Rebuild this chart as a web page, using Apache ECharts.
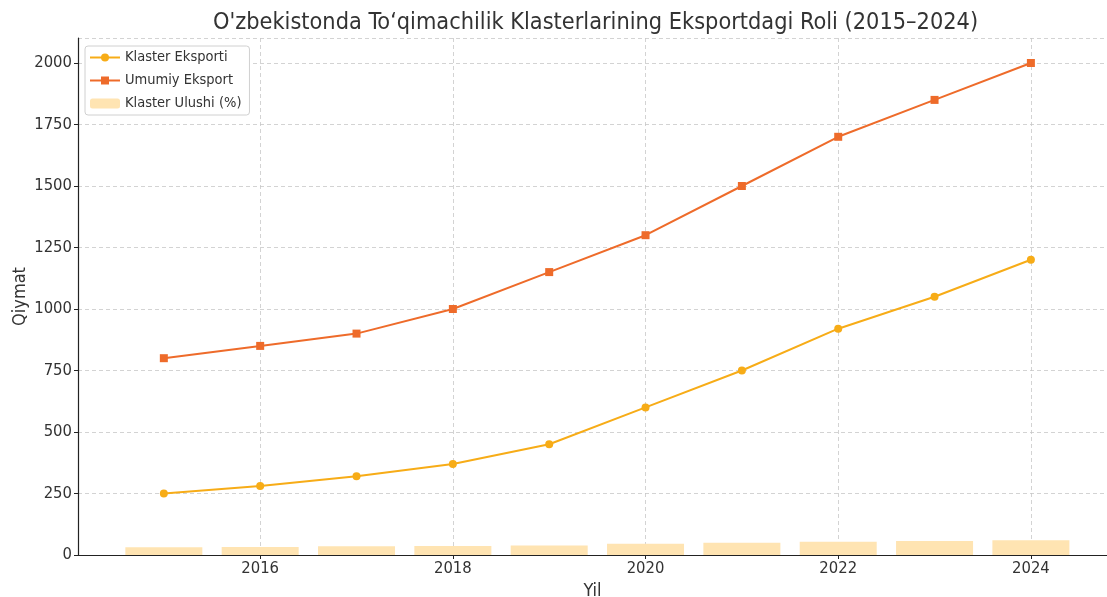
<!DOCTYPE html>
<html>
<head>
<meta charset="utf-8">
<script src="https://cdn.jsdelivr.net/npm/echarts@6/dist/echarts.min.js"></script>
<style>
  html, body { margin: 0; padding: 0; background: #fff; }
  #chart { width: 1107px; height: 597px; }
</style>
</head>
<body>
<div id="chart"></div>
<script>
// ma'lumotlar
const years = [2015, 2016, 2017, 2018, 2019, 2020, 2021, 2022, 2023, 2024];
const klasterEksporti = [250, 280, 320, 370, 450, 600, 750, 920, 1050, 1200];
const umumiyEksport = [800, 850, 900, 1000, 1150, 1300, 1500, 1700, 1850, 2000];
const klasterUlushi = [31.3, 32.9, 35.6, 37.0, 39.1, 46.2, 50.0, 54.1, 56.8, 60.0];
const xTicks = [2016, 2018, 2020, 2022, 2024];

const font = "'DejaVu Sans Condensed', 'DejaVu Sans', sans-serif";

const chart = echarts.init(document.getElementById('chart'));

const pair = (arr) => years.map((y, i) => [y, arr[i]]);

const option = {
    animation: false,
    textStyle: { fontFamily: font },
    title: {
        text: "O'zbekistonda To\u2018qimachilik Klasterlarining Eksportdagi Roli (2015\u20132024)",
        left: 213,
        top: 11,
        padding: 0,
        textStyle: { fontFamily: font, fontSize: 23.3, fontWeight: 'normal', color: '#333' }
    },
    legend: {
        orient: 'vertical',
        left: 85,
        top: 46,
        padding: [4, 8, 4, 4],
        itemGap: 8,
        itemWidth: 30,
        itemHeight: 10,
        backgroundColor: '#fff',
        borderColor: '#d0d0d0',
        borderWidth: 1,
        borderRadius: 3,
        textStyle: { fontFamily: font, fontSize: 14.5, color: '#333' },
        data: ['Klaster Eksporti', 'Umumiy Eksport', 'Klaster Ulushi (%)']
    },
    grid: { left: 78, right: 0, top: 38, bottom: 42, containLabel: false, outerBoundsMode: 'none' },
    xAxis: {
        type: 'value',
        min: 2014.109,
        max: 2024.79,
        name: 'Yil',
        nameLocation: 'middle',
        nameGap: 26,
        nameTextStyle: { fontFamily: font, fontSize: 18, color: '#333' },
        axisLine: { show: true, onZero: false, lineStyle: { color: '#222', width: 1.2 } },
        axisTick: { show: true, customValues: xTicks, length: 4, lineStyle: { color: '#222' } },
        axisLabel: {
            customValues: xTicks, fontSize: 16.5, color: '#333', margin: 5, fontFamily: font,
            formatter: (v) => String(v)
        },
        splitLine: { show: true, lineStyle: { color: '#c8c8c8', type: [4, 3], width: 0.8 } }
    },
    yAxis: {
        type: 'value',
        min: 0,
        max: 2101.6,
        interval: 250,
        name: 'Qiymat',
        nameLocation: 'middle',
        nameGap: 49,
        nameMoveOverlap: false,
        nameTextStyle: { fontFamily: font, fontSize: 18, color: '#333' },
        axisLine: { show: true, lineStyle: { color: '#222', width: 1.2 } },
        axisTick: { show: true, length: 4, lineStyle: { color: '#222' } },
        axisLabel: {
            fontSize: 16.5, color: '#333', margin: 6, fontFamily: font, showMaxLabel: false,
            formatter: (v) => String(v)
        },
        splitLine: { show: true, lineStyle: { color: '#c8c8c8', type: [4, 3], width: 0.8 } }
    },
    series: [
        {
            name: 'Klaster Ulushi (%)',
            type: 'bar',
            data: pair(klasterUlushi),
            barWidth: 77,
            itemStyle: { color: '#ffe4b2' },
            z: 1
        },
        {
            name: 'Klaster Eksporti',
            type: 'line',
            data: pair(klasterEksporti),
            symbol: 'circle',
            symbolSize: 8,
            lineStyle: { color: '#f7ac17', width: 2 },
            itemStyle: { color: '#f7ac17' },
            z: 3
        },
        {
            name: 'Umumiy Eksport',
            type: 'line',
            data: pair(umumiyEksport),
            symbol: 'rect',
            symbolSize: 8,
            lineStyle: { color: '#ee6b2a', width: 2 },
            itemStyle: { color: '#ee6b2a' },
            z: 3
        }
    ]
};

chart.setOption(option);
</script>
</body>
</html>
